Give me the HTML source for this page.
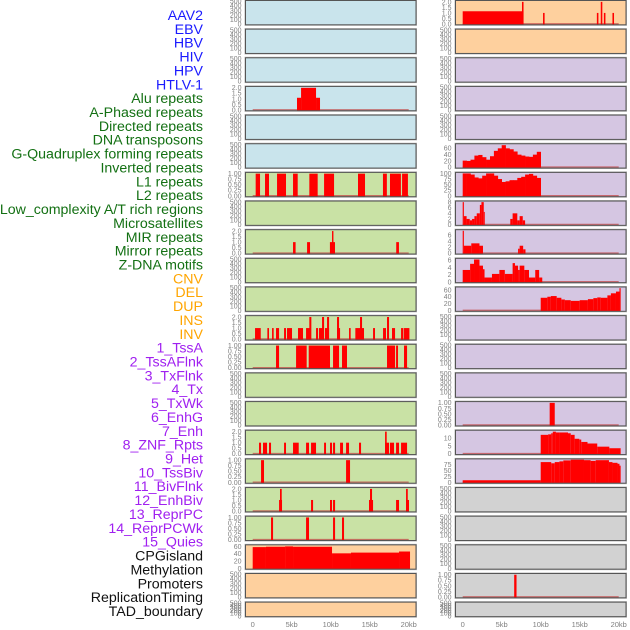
<!DOCTYPE html>
<html><head><meta charset="utf-8"><style>
html,body{margin:0;padding:0;background:#fff;width:630px;height:630px;overflow:hidden}
svg{display:block}
.lab{font-family:"Liberation Sans",sans-serif;font-size:14.2px}
.tk{font-family:"Liberation Sans",sans-serif;font-size:7px;fill:#808080}
.xt{font-family:"Liberation Sans",sans-serif;font-size:7.5px;fill:#808080}
</style></head><body>
<svg id="chart" width="630" height="630" viewBox="0 0 630 630"></svg>
<script>
// ---- labels ----
const labelNames = ["AAV2","EBV","HBV","HIV","HPV","HTLV-1","Alu repeats","A-Phased repeats","Directed repeats","DNA transposons","G-Quadruplex forming repeats","Inverted repeats","L1 repeats","L2 repeats","Low_complexity A/T rich regions","Microsatellites","MIR repeats","Mirror repeats","Z-DNA motifs","CNV","DEL","DUP","INS","INV","1_TssA","2_TssAFlnk","3_TxFlnk","4_Tx","5_TxWk","6_EnhG","7_Enh","8_ZNF_Rpts","9_Het","10_TssBiv","11_BivFlnk","12_EnhBiv","13_ReprPC","14_ReprPCWk","15_Quies","CPGisland","Methylation","Promoters","ReplicationTiming","TAD_boundary"];
const labelGroups = [6,13,5,15,5];
const groupColors = ["#1a1aff","#137013","#ffa500","#a020f0","#111111"];
// ---- x axis ----
const xTicks = [0,5,10,15,20];
const xTickLabels = ["0","5kb","10kb","15kb","20kb"];
// ---- interval tracks [startKb, endKb, value] ----
const alu = [[5.68,6.2,1.1],[6.2,8.12,2],[8.12,8.63,1.1]];
const l1 = [[0.38,0.94,1],[1.58,2.09,1],[3.12,4.27,1],[5.17,5.77,1],[7.26,8.33,1],[9.15,10.43,1],[13.5,14.4,1],[16.7,17.2,1],[17.6,19.0,1],[19.15,19.9,1]];
const mir = [[5.17,5.5,1],[6.97,7.35,1],[9.9,10.55,1],[10.17,10.35,2],[18.4,18.75,1]];
const ins = [[0.3,1.03,1],[1.88,2.09,1],[2.48,2.69,1],[2.99,3.38,1],[4.02,4.27,1],[4.4,5.04,1],[5.81,6.45,1],[6.84,7.35,1],[7.26,7.52,2],[8.12,8.38,1],[8.5,9.15,1],[8.89,9.15,2],[9.27,9.79,1],[9.53,9.79,2],[10.81,11.2,1],[10.81,11.07,2],[12.35,12.56,1],[13.16,14.27,1],[13.76,14.02,2],[15.43,15.68,1],[16.71,17.09,1],[17.22,17.48,2],[17.86,18.25,1],[19.02,19.32,1],[19.4,20.09,1]];
const tssA = [[2.99,3.38,1],[5.56,6.92,1],[7.18,9.91,1],[10.3,11.07,1],[11.45,12.09,1],[17.22,18.25,1],[18.38,18.63,1],[19.4,19.79,1]];
const znf = [[0.81,1.07,1],[1.32,1.84,1],[2.09,2.35,1],[4.02,4.27,1],[5.17,5.9,1],[6.84,7.22,1],[7.48,8.12,1],[9.15,9.4,1],[9.91,10.17,1],[10.3,10.56,1],[11.2,11.58,1],[11.97,12.35,1],[13.63,13.89,1],[16.97,17.48,1],[16.97,17.18,2],[17.6,18.12,1],[18.38,18.76,1],[19.02,19.79,1]];
const het = [[1.07,1.45,1],[11.97,12.48,1]];
const tssBiv = [[3.38,3.76,1],[3.5,3.72,2],[7.48,7.74,1],[9.91,10.17,1],[10.3,10.56,1],[14.91,15.43,1],[15.04,15.3,2],[18.38,18.76,1],[19.66,20.04,1],[19.66,19.88,2]];
const bivFlnk = [[2.35,2.61,1],[6.84,7.22,1],[10.3,10.56,1],[11.45,11.71,1]];
const cpg = [[0,1.7,58],[1.7,4.15,59],[4.15,5.17,60],[5.17,10.17,59],[10.17,12.6,41],[12.6,18.76,43],[18.76,20.17,46]];
const aav2 = [[0,7.8,1.15],[7.6,7.8,2],[10.3,10.5,1],[17.2,17.4,1],[17.7,17.9,2],[18.1,18.3,1],[19.2,19.4,1]];
const zdnaR = [[0,0.15,8],[0.15,0.5,3],[0.5,0.9,2],[0.9,1.2,1.5],[1.2,1.5,2],[1.5,1.8,3],[1.8,2.2,4],[2.2,2.4,7],[2.4,2.7,8],[2.7,2.8,4.5],[6.1,6.4,2],[6.4,7.0,4],[7.0,7.3,1.5],[7.3,7.7,3],[7.7,8.0,1.5]];
const microR = [[0,0.15,7.5],[0.15,1.1,2.5],[1.1,2.15,3.3],[2.15,2.6,2.5],[7.1,7.3,1.5],[7.3,7.75,2.5],[7.75,8.05,1.3]];
const mirrorR = [[0,0.95,3.3],[0.95,1.45,5],[1.45,2.15,6.2],[2.15,2.6,4.5],[2.6,2.8,3.5],[2.8,3.75,1.2],[3.75,4.7,2.2],[4.7,5.4,3.3],[5.4,6.4,2.2],[6.4,6.7,5.2],[6.7,7.1,4.5],[7.1,7.3,3.3],[7.3,7.9,4.5],[7.9,8.5,3.3],[8.5,9.3,1.2],[9.3,9.8,3.3],[9.8,10.2,1.2]];
const cnvR = [[10,10.85,37],[10.85,11.3,40],[11.3,12.05,42],[12.05,12.65,37],[12.65,13.1,32],[13.1,13.85,30],[13.85,15.0,28],[15.0,16.05,30],[16.05,16.75,33],[16.75,17.25,36],[17.25,17.7,38],[17.7,18.55,37],[18.55,19.0,44],[19.0,19.65,50],[19.65,20.1,55],[20.1,20.25,65]];
const enhR = [[11.15,11.8,1]];
const znfR = [[10,10.95,12],[10.95,11.35,12.3],[11.35,11.55,13],[11.55,11.95,14],[11.95,12.4,13.5],[12.4,13.5,13.5],[13.5,13.85,13],[13.85,14.35,12],[14.35,14.95,9.5],[14.95,15.2,9],[15.2,16.0,7.5],[16.0,17.25,6.5],[17.25,18.8,4.5],[18.8,20.25,3.5]];
const hetR = [[0,10,9],[10,11.35,85],[11.35,11.8,80],[11.8,12.4,85],[12.4,12.9,88],[12.9,13.85,92],[13.85,15.55,95],[15.55,16.4,93],[16.4,17.05,90],[17.05,18.75,93],[18.75,19.2,85],[19.2,19.85,82],[19.85,20.1,78],[20.1,20.25,70]];
const promR = [[6.6,6.9,1]];
// ---- binned tracks (0.5kb bins starting at 0) ----
const gquadR = [21,20,24,37,39,32,24,35,52,60,70,60,57,50,40,37,34,33,40,49];
const invR = [100,100,95,82,78,90,100,100,90,75,62,65,70,70,80,85,95,98,90,80];

const BL="#c9e4ec",GR="#c9e2a5",OR="#fed09e",LV="#d5c6e2",GY="#d2d2d2";
const E=[0,100,200,300,400,500], T2=[0,0.5,1,1.5,2], T1=[0,0.25,0.5,0.75,1];
const leftPanels=[
 [BL,E,500,null],[BL,E,500,null],[BL,E,500,null],[BL,T2,2.05,alu],[BL,E,500,null],[BL,E,500,null],
 [GR,T1,1.02,l1],[GR,E,500,null],[GR,T2,2.05,mir],[GR,E,500,null],[GR,E,500,null],[GR,T2,2.05,ins],
 [GR,T1,1.02,tssA],[GR,E,500,null],[GR,E,500,null],[GR,T2,2.05,znf],[GR,T1,1.02,het],[GR,T2,2.05,tssBiv],
 [GR,T1,1.02,bivFlnk],[OR,[0,20,40,60],62,cpg],[OR,E,500,null],[OR,E,500,null]];
const rightPanels=[
 [OR,T2,2.05,aav2],[OR,E,500,null],[LV,E,500,null],[LV,E,500,null],[LV,E,500,null],
 [LV,[0,20,40,60],72,gquadR],[LV,[0,25,50,75,100],101,invR],[LV,[0,2,4,6,8],8.1,zdnaR],
 [LV,[0,2,4,6],7.6,microR],[LV,[0,2,4,6],6.3,mirrorR],[LV,[0,20,40,60],66,cnvR],
 [LV,E,500,null],[LV,E,500,null],[LV,E,500,null],[LV,T1,1.02,enhR],[LV,[0,5,10],14.4,znfR],
 [LV,[0,25,50,75],95,hetR],[GY,E,500,null],[GY,E,500,null],[GY,E,500,null],[GY,T1,1.02,promR],[GY,E,500,null]];

const svg=document.getElementById('chart');
const NS="http://www.w3.org/2000/svg";
function mk(tag,attrs,parent){const e=document.createElementNS(NS,tag);for(const k in attrs)e.setAttribute(k,attrs[k]);(parent||svg).appendChild(e);return e;}

let gi=0,cnt=0;
labelNames.forEach((n,i)=>{
  while(cnt>=labelGroups[gi]){cnt-=labelGroups[gi];gi++;}
  const t=mk('text',{x:203,y:15+i*13.86+5,'text-anchor':'end',class:'lab',fill:groupColors[gi]});
  t.textContent=n;
  
  
  cnt++;
});

function drawColumn(panels,x0,x1,zeroX,col){
  const kbx=kb=>zeroX+kb*7.8;
  panels.forEach((p,i)=>{
    const top=0.5+28.65*i, h=(i===21)?14.5:24.3, bot=top+h;
    const g=mk('g',{});
    
    
    mk('rect',{x:x0-0.5,y:top-0.5,width:x1-x0+1,height:h+1,fill:'none',stroke:'#b8b8b8','stroke-width':1},g);
    mk('rect',{x:x0,y:top,width:x1-x0,height:h,fill:p[0]},g);
    const ylim=p[2];
    const ys=v=>bot-0.8-v/ylim*(h-1.6);
    p[1].forEach(v=>{
      const t=mk('text',{x:x0-4,y:ys(v)+2.4,'text-anchor':'end',class:'tk'},g);
      t.textContent = (p[1]===T1)? v.toFixed(2) : (p[1]===T2? v.toFixed(1): String(v));
      
      
    });
    const d=p[3];
    if(d){
      mk('line',{x1:kbx(0),x2:kbx(20),y1:bot-1,y2:bot-1,stroke:'#c04848','stroke-width':1.3,'stroke-opacity':0.75},g);
      if(typeof d[0]==='number'){
        d.forEach((v,j)=>{
          const r=mk('rect',{x:kbx(j*0.5),y:ys(v),width:7.8*0.5+0.3,height:bot-ys(v),fill:'#ff0000'},g);
          
          
        });
      } else {
        d.forEach(s=>{
          const r=mk('rect',{x:kbx(s[0]),y:ys(s[2]),width:Math.max(1,(s[1]-s[0])*7.8),height:bot-ys(s[2]),fill:'#ff0000'},g);
          
          
        });
      }
    }
    mk('rect',{x:x0,y:top,width:x1-x0,height:h,fill:'none',stroke:'#555','stroke-width':1},g);
  });
  xTicks.forEach((v,j)=>{
    const t=mk('text',{x:kbx(v),y:627,'text-anchor':'middle',class:'xt'});
    t.textContent=xTickLabels[j];
    
    
  });
}
drawColumn(leftPanels,245.5,416,252.7,'left');
drawColumn(rightPanels,455.5,626,462.7,'right');
</script>
</body></html>
